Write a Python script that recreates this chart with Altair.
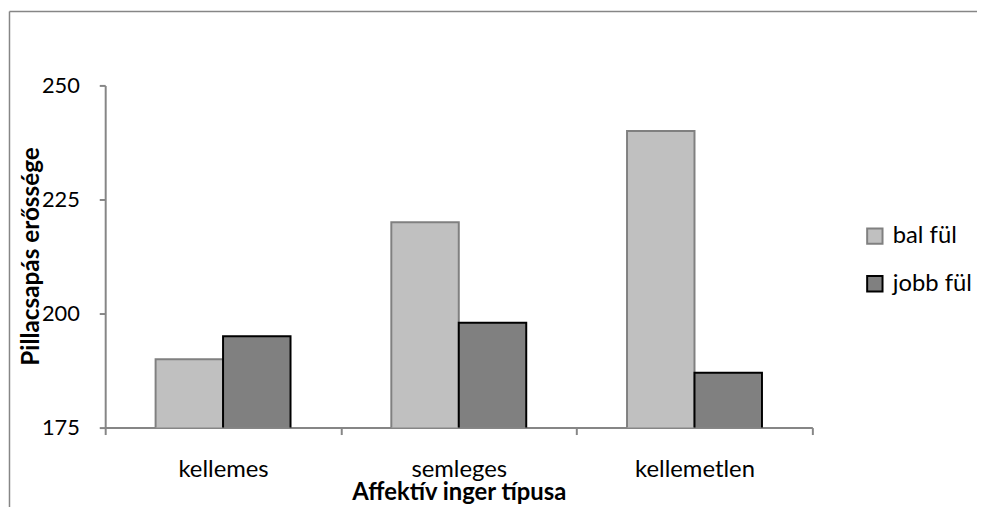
import altair as alt
import pandas as pd

categories = ["kellemes", "semleges", "kellemetlen"]
series = ["bal fül", "jobb fül"]
bal_values = [190, 220, 240]
jobb_values = [195, 198, 187]
y_ticks = [175, 200, 225, 250]

rows = []
for c, b, j in zip(categories, bal_values, jobb_values):
    rows.append({"cat": c, "ser": series[0], "val": b})
    rows.append({"cat": c, "ser": series[1], "val": j})
df = pd.DataFrame(rows)

FONT = "Lato"
AX = "#868686"

legend_opts = dict(title=None, orient="none", legendX=764, legendY=140,
                   symbolType="square", symbolSize=240, symbolStrokeWidth=2,
                   labelFont=FONT, labelFontSize=24, labelColor="black",
                   rowPadding=24, labelOffset=6)

bars = alt.Chart(df).mark_bar(strokeWidth=2, clip=True).encode(
    x=alt.X("cat:N", sort=categories,
            scale=alt.Scale(paddingInner=0, paddingOuter=0),
            axis=alt.Axis(title="Affektív inger típusa", labelAngle=0, tickBand="extent",
                          domainColor=AX, tickColor=AX, tickSize=7, domainWidth=2, tickWidth=2,
                          labelFontSize=24, labelFont=FONT, labelColor="black",
                          labelBaseline="alphabetic", labelPadding=42,
                          titleFont=FONT, titleFontSize=24, titleFontWeight="bold",
                          titleColor="black", titleBaseline="alphabetic", titleY=73)),
    xOffset=alt.XOffset("ser:N", sort=series,
                        scale=alt.Scale(paddingInner=0, paddingOuter=0.747)),
    y=alt.Y("val:Q", scale=alt.Scale(domain=[175, 250], nice=False, zero=False),
            axis=alt.Axis(title="Pillacsapás erőssége", values=y_ticks, grid=False,
                          domainColor=AX, tickColor=AX, tickSize=6, domainWidth=2, tickWidth=2,
                          labelFontSize=22, labelFont=FONT, labelColor="black", labelPadding=20,
                          titleFont=FONT, titleFontSize=24.5, titleFontWeight="bold",
                          titleColor="black", titleAngle=270, titleX=-74, titleY=172,
                          titleAlign="center", titleBaseline="middle")),
    fill=alt.Fill("ser:N", sort=series,
                  scale=alt.Scale(domain=series, range=["#c0c0c0", "#808080"]),
                  legend=alt.Legend(**legend_opts)),
    stroke=alt.Stroke("ser:N", sort=series,
                      scale=alt.Scale(domain=series, range=["#808080", "#000000"]),
                      legend=alt.Legend(**legend_opts)),
)

frame_df = pd.DataFrame({"k": [0]})
frame_left = alt.Chart(frame_df).mark_rule(color=AX, strokeWidth=1.5).encode(
    x=alt.value(-96.5), y=alt.value(-74.5), y2=alt.value(440))
frame_top = alt.Chart(frame_df).mark_rule(color=AX, strokeWidth=1.5).encode(
    x=alt.value(-96.5), x2=alt.value(900), y=alt.value(-74.5))

chart = alt.layer(bars, frame_left, frame_top).properties(
    width=713, height=345,
    autosize=alt.AutoSizeParams(type="none"),
    padding={"left": 98, "top": 76, "right": 166, "bottom": 78},
).configure_view(stroke="transparent")

chart.save("out.html", embed_options={"renderer": "svg", "actions": False})
